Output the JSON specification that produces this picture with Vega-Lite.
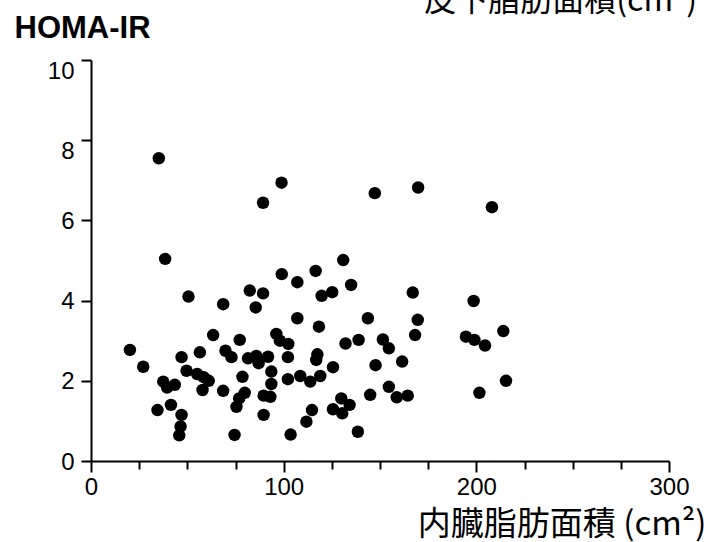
{
  "$schema": "https://vega.github.io/schema/vega-lite/v6.json",
  "width": 578,
  "height": 401,
  "autosize": "none",
  "padding": {"left": 91, "top": 60, "right": 40, "bottom": 81},
  "background": "white",
  "title": {
    "text": "皮下脂肪面積(cm²)",
    "anchor": "end",
    "frame": "group",
    "orient": "top",
    "font": "Noto Sans CJK JP",
    "fontSize": 32,
    "fontWeight": "normal",
    "color": "black",
    "baseline": "bottom",
    "offset": 0,
    "dx": 28,
    "dy": 38
  },
  "data": {
    "values": [
      {"visceral": 35.2, "homa": 7.55}, {"visceral": 89.3, "homa": 6.44}, {"visceral": 98.9, "homa": 6.94},
      {"visceral": 38.5, "homa": 5.04}, {"visceral": 130.9, "homa": 5.01}, {"visceral": 147.3, "homa": 6.68},
      {"visceral": 169.8, "homa": 6.82}, {"visceral": 208.1, "homa": 6.33}, {"visceral": 99, "homa": 4.66},
      {"visceral": 116.6, "homa": 4.74}, {"visceral": 107.1, "homa": 4.46}, {"visceral": 135, "homa": 4.39},
      {"visceral": 82.4, "homa": 4.25}, {"visceral": 89.3, "homa": 4.18}, {"visceral": 119.7, "homa": 4.12},
      {"visceral": 125.2, "homa": 4.21}, {"visceral": 50.6, "homa": 4.1}, {"visceral": 68.6, "homa": 3.91},
      {"visceral": 85.5, "homa": 3.83}, {"visceral": 107.1, "homa": 3.56}, {"visceral": 118.3, "homa": 3.35},
      {"visceral": 63.4, "homa": 3.14}, {"visceral": 96.2, "homa": 3.17}, {"visceral": 98, "homa": 3.0},
      {"visceral": 102.4, "homa": 2.92}, {"visceral": 77.2, "homa": 3.02}, {"visceral": 132.1, "homa": 2.93},
      {"visceral": 138.9, "homa": 3.02}, {"visceral": 20.2, "homa": 2.77}, {"visceral": 27.1, "homa": 2.35},
      {"visceral": 47, "homa": 2.59}, {"visceral": 56.5, "homa": 2.71}, {"visceral": 69.8, "homa": 2.75},
      {"visceral": 72.9, "homa": 2.59}, {"visceral": 81.5, "homa": 2.56}, {"visceral": 85.8, "homa": 2.62},
      {"visceral": 87, "homa": 2.44}, {"visceral": 91.9, "homa": 2.6}, {"visceral": 102.2, "homa": 2.59},
      {"visceral": 117.5, "homa": 2.66}, {"visceral": 116.9, "homa": 2.52}, {"visceral": 49.6, "homa": 2.25},
      {"visceral": 55.1, "homa": 2.17}, {"visceral": 58.5, "homa": 2.09}, {"visceral": 61.1, "homa": 2.0},
      {"visceral": 78.6, "homa": 2.1}, {"visceral": 93.6, "homa": 2.23}, {"visceral": 102.2, "homa": 2.04},
      {"visceral": 108.6, "homa": 2.12}, {"visceral": 113.8, "homa": 1.98}, {"visceral": 119, "homa": 2.12},
      {"visceral": 125.6, "homa": 2.34}, {"visceral": 37.5, "homa": 1.98}, {"visceral": 39.5, "homa": 1.83},
      {"visceral": 43.5, "homa": 1.9}, {"visceral": 57.9, "homa": 1.77}, {"visceral": 68.6, "homa": 1.75},
      {"visceral": 79.8, "homa": 1.7}, {"visceral": 76.9, "homa": 1.56}, {"visceral": 93.6, "homa": 1.92},
      {"visceral": 89.6, "homa": 1.63}, {"visceral": 93.1, "homa": 1.6}, {"visceral": 75.5, "homa": 1.35},
      {"visceral": 41.5, "homa": 1.4}, {"visceral": 34.5, "homa": 1.27}, {"visceral": 47, "homa": 1.15},
      {"visceral": 46.5, "homa": 0.86}, {"visceral": 45.8, "homa": 0.64}, {"visceral": 74.5, "homa": 0.65},
      {"visceral": 89.6, "homa": 1.15}, {"visceral": 103.6, "homa": 0.66}, {"visceral": 111.8, "homa": 0.98},
      {"visceral": 114.7, "homa": 1.27}, {"visceral": 125.6, "homa": 1.29}, {"visceral": 129.9, "homa": 1.56},
      {"visceral": 130.4, "homa": 1.19}, {"visceral": 134.2, "homa": 1.4}, {"visceral": 138.5, "homa": 0.73},
      {"visceral": 167, "homa": 4.2}, {"visceral": 198.6, "homa": 3.99}, {"visceral": 143.7, "homa": 3.56},
      {"visceral": 169.6, "homa": 3.52}, {"visceral": 214, "homa": 3.24}, {"visceral": 168.2, "homa": 3.14},
      {"visceral": 151.5, "homa": 3.03}, {"visceral": 154.6, "homa": 2.81}, {"visceral": 194.6, "homa": 3.1},
      {"visceral": 199, "homa": 3.02}, {"visceral": 204.5, "homa": 2.88}, {"visceral": 147.7, "homa": 2.39},
      {"visceral": 161.5, "homa": 2.48}, {"visceral": 154.6, "homa": 1.85}, {"visceral": 158.7, "homa": 1.59},
      {"visceral": 164.4, "homa": 1.63}, {"visceral": 144.9, "homa": 1.65}, {"visceral": 201.6, "homa": 1.7},
      {"visceral": 215.4, "homa": 2.0}
    ]
  },
  "mark": {"type": "circle", "size": 155, "color": "black", "opacity": 1},
  "encoding": {
    "x": {
      "field": "visceral",
      "type": "quantitative",
      "scale": {"domain": [0, 300], "nice": false, "zero": true},
      "axis": {
        "title": "内臓脂肪面積 (cm²)",
        "titleFont": "Noto Sans CJK JP",
        "titleFontSize": 33,
        "titleFontWeight": "normal",
        "titleColor": "black",
        "titleAnchor": "end",
        "titleAlign": "right",
        "titleX": 615,
        "titleY": 73,
        "titleBaseline": "alphabetic",
        "values": [0, 25, 50, 75, 100, 125, 150, 175, 200, 225, 250, 275, 300],
        "labelExpr": "datum.value % 100 === 0 ? datum.label : ''",
        "labelFont": "Liberation Sans",
        "labelFontSize": 24,
        "labelColor": "black",
        "labelPadding": 3,
        "labelFlush": false,
        "labelOverlap": false,
        "tickSize": {"condition": {"test": "datum.value % 100 === 0", "value": 11}, "value": 8},
        "tickWidth": 2,
        "tickColor": "black",
        "domainColor": "black",
        "domainWidth": 2,
        "grid": false
      }
    },
    "y": {
      "field": "homa",
      "type": "quantitative",
      "scale": {"domain": [0, 10], "nice": false},
      "axis": {
        "title": "HOMA-IR",
        "titleFont": "Liberation Sans",
        "titleFontSize": 31,
        "titleFontWeight": "bold",
        "titleColor": "black",
        "titleAngle": 0,
        "titleAlign": "left",
        "titleBaseline": "alphabetic",
        "titleX": -77,
        "titleY": -23,
        "values": [0, 2, 4, 6, 8, 10],
        "labelFont": "Liberation Sans",
        "labelFontSize": 24,
        "labelColor": "black",
        "labelPadding": 7,
        "labelFlush": false,
        "labelOffset": {"condition": {"test": "datum.value >= 8", "value": 11}, "value": 1},
        "tickSize": 10,
        "tickWidth": 2,
        "tickColor": "black",
        "domainColor": "black",
        "domainWidth": 2,
        "grid": false
      }
    }
  },
  "config": {"view": {"stroke": null}}
}
